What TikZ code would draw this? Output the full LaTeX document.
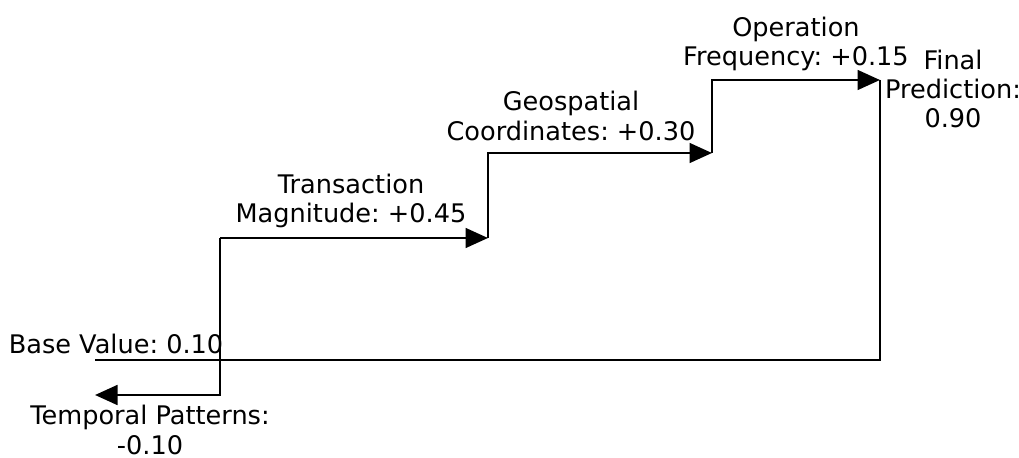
\documentclass[tikz,border=0pt]{standalone}
\usepackage{fontspec}
\setmainfont{DejaVu Sans}
\usetikzlibrary{arrows.meta}
\frenchspacing

\tikzset{
    flow/.style={line width=1.9pt, -{Triangle[length=16pt,width=14pt]}},
    plain/.style={line width=1.9pt},
    lbl/.style={align=center, inner sep=0pt, font=\fontsize{18.2}{20.7}\selectfont}
}

\begin{document}
\begin{tikzpicture}[x=0.025cm, y=-0.025cm]
        % Fix the page size
        \useasboundingbox (0,0) rectangle (1019,458);

        % Corners of the steps
        \coordinate (base) at (95,360);
        \coordinate (s1) at (220,238);
        \coordinate (s2) at (488,238);
        \coordinate (s3) at (712,153);
        \coordinate (s4) at (880,80);
        \coordinate (tmp) at (95,395);

        % Draw the steps
        \draw[flow] (s1) |- (tmp);
        \draw[flow] (s1) -- (s2);
        \draw[flow] (s2) |- (s3);
        \draw[flow] (s3) |- (s4);
        \draw[plain] (s4) |- (base);

        % Add the labels
        \node[lbl] (lbase) at (116,344) {Base Value: 0.10};
        \node[lbl] (ltmp) at (150,430) {Temporal Patterns:\\-0.10};
        \node[lbl] (ltrans) at (351,201) {Transaction\\Magnitude: +0.45};
        \node[lbl] (lgeo) at (571,116) {Geospatial\\Coordinates: +0.30};
        \node[lbl] (lop) at (796,44) {Operation\\Frequency: +0.15};
        \node[lbl] (lfin) at (953,89) {Final\\Prediction:\\0.90};
    \end{tikzpicture}
\end{document}
